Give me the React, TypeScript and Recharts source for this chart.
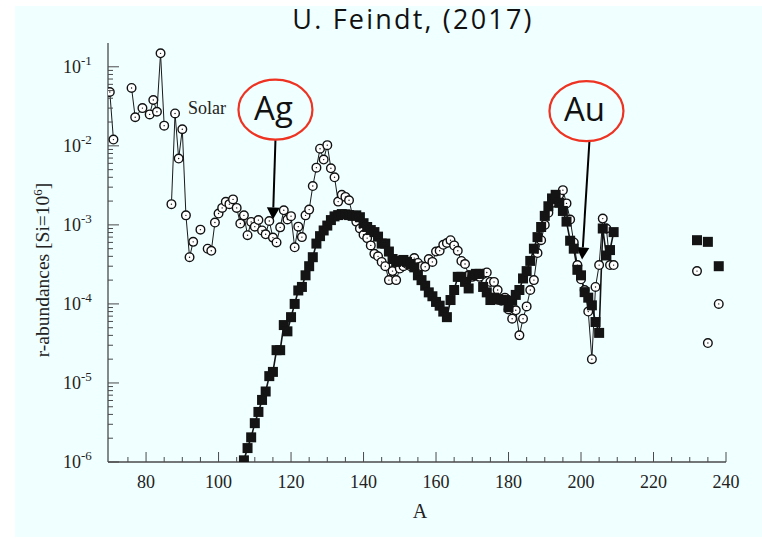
import React from 'react';
import { LineChart, Line, XAxis, YAxis, ReferenceDot, ReferenceLine } from 'recharts';

// ---- data ----
// Solar r-process abundances (open circles); null = break in the connecting line
const SOLAR_A = [
  70, 71, 73, 76, 77, 79, 81, 82, 83, 84, 85, 86, 87, 88, 89, 90, 91, 92, 93, 94, 95, 96, 97, 98, 99,
  100, 101, 102, 103, 104, 105, 106, 107, 108, 109, 110, 111, 112, 113, 114, 115, 116, 117, 118, 119,
  120, 121, 122, 123, 124, 125, 126, 127, 128, 129, 130, 131, 132, 133, 134, 135, 136, 137, 138, 139,
  140, 141, 142, 143, 144, 145, 146, 147, 148, 149, 150, 151, 152, 153, 154, 155, 156, 157, 158, 159,
  160, 161, 162, 163, 164, 165, 166, 167, 168, 169, 170, 171, 172, 173, 174, 175, 176, 177, 178, 179,
  180, 181, 182, 183, 184, 185, 186, 187, 188, 189, 190, 191, 192, 193, 194, 195, 196, 197, 198, 199,
  200, 201, 202, 203, 204, 205, 206, 207, 208, 209, 210, 232, 233, 235, 236, 238,
];
const SOLAR_V = [
  0.048, 0.012, null, 0.054, 0.023, 0.030, 0.025, 0.038, 0.027, 0.148, 0.018, null, 1.83e-3, 0.0257, 6.9e-3, 0.0162, 1.32e-3, 3.9e-4, 6.1e-4, null, 8.7e-4, null, 5.0e-4, 4.7e-4, 1.07e-3,
  1.39e-3, 1.64e-3, 1.96e-3, 1.83e-3, 2.1e-3, 1.64e-3, 1.04e-3, 1.32e-3, 7.4e-4, 1.09e-3, 9.5e-4, 1.15e-3, 8.5e-4, 7.6e-4, 1.12e-3, 6.9e-4, 6.0e-4, 9.3e-4, 1.53e-3, 1.17e-3,
  1.29e-3, 5.2e-4, 9.5e-4, 7.0e-4, 1.32e-3, 1.56e-3, 3.1e-3, 5.3e-3, 9.2e-3, 6.7e-3, 1.02e-2, 5.2e-3, 4.0e-3, 1.97e-3, 2.4e-3, 2.26e-3, 2.05e-3, 1.3e-3, 1.1e-3, 9.0e-4,
  7.5e-4, 6.8e-4, 5.5e-4, 4.3e-4, 4.0e-4, 3.4e-4, 3.0e-4, 2.0e-4, 2.6e-4, 2.0e-4, 2.8e-4, 3.0e-4, 3.2e-4, 3.0e-4, 3.8e-4, 3.3e-4, 3.0e-4, 2.95e-4, 3.7e-4, 3.4e-4,
  4.6e-4, 4.7e-4, 5.6e-4, 5.9e-4, 6.4e-4, 5.5e-4, 4.7e-4, 3.5e-4, 3.2e-4, 2.3e-4, 2.2e-4, 2.3e-4, 2.2e-4, 2.4e-4, 2.5e-4, 1.9e-4, 1.9e-4, 1.5e-4, 1.1e-4, 1.2e-4,
  8.5e-5, 6.5e-5, 8.3e-5, 4.0e-5, 6.5e-5, 9.3e-5, 1.5e-4, 2.0e-4, 4.4e-4, 6.4e-4, 1.0e-3, 1.42e-3, 1.9e-3, 2.1e-3, 2.4e-3, 2.75e-3, 1.87e-3, 1.17e-3, 6.0e-4, 3.1e-4,
  2.05e-4, 1.5e-4, 8.0e-5, 2.0e-5, 1.64e-4, 3.1e-4, 1.2e-3, 9.0e-4, 3.1e-4, 3.1e-4, null, 2.6e-4, null, 3.2e-5, null, 1.0e-4,
];

// Calculated r-process abundances (filled squares)
const RPROC_A = [
  107, 108, 109, 110, 111, 112, 113, 114, 115, 116, 117, 118, 119, 120, 121, 122, 123, 124, 125, 126,
  127, 128, 129, 130, 131, 132, 133, 134, 135, 136, 137, 138, 139, 140, 141, 142, 143, 144, 145, 146,
  147, 148, 149, 150, 151, 152, 153, 154, 155, 156, 157, 158, 159, 160, 161, 162, 163, 164, 165, 166,
  167, 168, 169, 170, 171, 172, 173, 174, 175, 176, 177, 178, 179, 180, 181, 182, 183, 184, 185, 186,
  187, 188, 189, 190, 191, 192, 193, 194, 195, 196, 197, 198, 199, 200, 201, 202, 203, 204, 205, 206,
  207, 208, 209, 210, 232, 233, 235, 236, 238,
];
const RPROC_V = [
  1.05e-6, 1.5e-6, 2.05e-6, 3.1e-6, 4.3e-6, 6.1e-6, 7.8e-6, 1.22e-5, 1.38e-5, 2.6e-5, 2.6e-5, 5.4e-5, 4.5e-5, 6.8e-5, 1.0e-4, 1.48e-4, 1.64e-4, 2.3e-4, 3.0e-4, 3.9e-4,
  5.8e-4, 7.2e-4, 8.5e-4, 9.8e-4, 1.15e-3, 1.28e-3, 1.33e-3, 1.37e-3, 1.36e-3, 1.33e-3, 1.3e-3, 1.32e-3, 1.25e-3, 1.05e-3, 9.4e-4, 8.6e-4, 8.1e-4, 7.1e-4, 5.8e-4, 5.8e-4,
  4.6e-4, 3.7e-4, 3.4e-4, 3.5e-4, 3.6e-4, 3.4e-4, 3.2e-4, 2.9e-4, 2.3e-4, 2.0e-4, 1.7e-4, 1.4e-4, 1.25e-4, 1.06e-4, 9.5e-5, 8.0e-5, 6.8e-5, 1.12e-4, 1.5e-4, 2.2e-4,
  2.2e-4, 1.9e-4, 1.57e-4, 2.3e-4, 2.4e-4, 2.4e-4, 1.64e-4, 1.4e-4, 1.12e-4, 1.2e-4, 1.15e-4, 1.13e-4, 1.12e-4, 9.1e-5, 1.1e-4, 1.3e-4, 1.5e-4, 2.1e-4, 2.6e-4, 3.5e-4,
  5.0e-4, 7.0e-4, 9.4e-4, 1.3e-3, 1.72e-3, 2.16e-3, 2.4e-3, 1.9e-3, 1.5e-3, 1.1e-3, 6.3e-4, 5.0e-4, 2.7e-4, 2.3e-4, 1.41e-4, 1.2e-4, 9.6e-5, 5.9e-5, 4.3e-5, 9.0e-4,
  4.1e-4, 4.8e-4, 8.1e-4, null, 6.4e-4, null, 6.1e-4, null, 3.0e-4,
];

const X_MINOR_TICKS = [75, 80, 85, 90, 95, 100, 105, 110, 115, 120, 125, 130, 135, 140, 145, 150, 155, 160, 165, 170, 175, 180, 185, 190, 195, 200, 205, 210, 215, 220, 225, 230, 235, 240];
const X_LABELS = [80, 100, 120, 140, 160, 180, 200, 220, 240];
const Y_DECADES = [-6, -5, -4, -3, -2, -1];
const Y_MULTIPLIERS = [1, 2, 3, 4, 5, 6, 7, 8, 9];

const X_DOMAIN = [69.5, 240];
const Y_DOMAIN = [1e-6, 0.2];

// annotations (data coordinates)
const AG = { label: 'Ag', x: 115.7, y: 0.0287, tipX: 115.0, tipY: 1.17e-3, fromX: 115.7, fromY: 0.0118 };
const AU = { label: 'Au', x: 201.5, y: 0.0275, tipX: 200.3, tipY: 3.65e-4, fromX: 202.3, fromY: 0.0112 };

// ---- derived tables ----
const solarData = SOLAR_A.map((a, i) => ({ A: a, v: SOLAR_V[i] }));
const rprocData = RPROC_A.map((a, i) => ({ A: a, v: RPROC_V[i] }));
const Y_TICKS: number[] = [];
Y_DECADES.forEach((d) => {
  Y_MULTIPLIERS.forEach((k) => {
    const v = k * Math.pow(10, d);
    if (v < Y_DOMAIN[1] * 0.99) Y_TICKS.push(v);
  });
});

const FRAME = '#4a4a4a';
const SERIF = '"Liberation Serif", "Times New Roman", serif';
const SANS = '"Open Sans", "Noto Sans", sans-serif';
const BG = '#F0FFFF';

const isMajorY = (v: number) => {
  const l = Math.log10(v);
  return Math.abs(l - Math.round(l)) < 1e-6;
};

const BottomTick = (props: any) => {
  const { x, y, payload } = props;
  const v = payload.value;
  const major = X_LABELS.includes(v);
  return (
    <g>
      <line x1={x} y1={y} x2={x} y2={y - (major ? 10 : 5)} stroke={FRAME} strokeWidth={1} />
      {major && (
        <text x={x} y={y + 26} textAnchor="middle" fontFamily={SERIF} fontSize={18} fill="#222">
          {v}
        </text>
      )}
    </g>
  );
};

const TopTick = (props: any) => {
  const { x, y, payload } = props;
  const major = X_LABELS.includes(payload.value);
  return <line x1={x} y1={y} x2={x} y2={y + (major ? 10 : 5)} stroke={FRAME} strokeWidth={1} />;
};

const LeftTick = (props: any) => {
  const { x, y, payload } = props;
  const v = payload.value;
  const major = isMajorY(v);
  const e = Math.round(Math.log10(v));
  return (
    <g>
      <line x1={x} y1={y} x2={x + (major ? 11 : 5)} y2={y} stroke={FRAME} strokeWidth={1} />
      {major && (
        <text x={x - 45} y={y + 6} fontFamily={SERIF} fontSize={18} fill="#222">
          10
          <tspan dy={-8} fontSize={13}>
            {String(e)}
          </tspan>
        </text>
      )}
    </g>
  );
};

const RightTick = (props: any) => {
  const { x, y, payload } = props;
  const major = isMajorY(payload.value);
  return <line x1={x} y1={y} x2={x - (major ? 11 : 5)} y2={y} stroke={FRAME} strokeWidth={1} />;
};

const CircleDot = (props: any) => {
  const { cx, cy, index, value } = props;
  if (cx == null || cy == null || value == null || (Array.isArray(value) && value[1] == null)) return <g key={`c${index}`} />;
  return (
    <g key={`c${index}`}>
      <circle cx={cx} cy={cy} r={4.3} fill="#fff" stroke="#111" strokeWidth={1.4} />
      <circle cx={cx} cy={cy} r={0.7} fill="#111" />
    </g>
  );
};

const SquareDot = (props: any) => {
  const { cx, cy, index, value } = props;
  if (cx == null || cy == null || value == null || (Array.isArray(value) && value[1] == null)) return <g key={`s${index}`} />;
  const s = 10;
  return <rect key={`s${index}`} x={cx - s / 2} y={cy - s / 2} width={s} height={s} fill="#141414" />;
};

const ellipseShape = (label: string) => (p: any) => (
  <g>
    <ellipse cx={p.cx} cy={p.cy} rx={37} ry={30} fill="none" stroke="#EE3322" strokeWidth={2.2} />
    <text x={p.cx - 2} y={p.cy + 10} textAnchor="middle" fontFamily={SANS} fontSize={33} fill="#111">
      {label}
    </text>
  </g>
);

const arrowShape = (p: any) => {
  const { x1, y1, x2, y2 } = p;
  if ([x1, y1, x2, y2].some((v) => v == null || isNaN(v))) return <g />;
  const dx = x2 - x1;
  const dy = y2 - y1;
  const len = Math.sqrt(dx * dx + dy * dy);
  const ux = dx / len;
  const uy = dy / len;
  const hl = 12;
  const hw = 6.5;
  const bx = x2 - ux * hl;
  const by = y2 - uy * hl;
  return (
    <g>
      <line x1={x1} y1={y1} x2={bx} y2={by} stroke="#000" strokeWidth={2} />
      <polygon
        points={`${x2},${y2} ${bx - uy * hw},${by + ux * hw} ${bx + uy * hw},${by - ux * hw}`}
        fill="#000"
      />
    </g>
  );
};

export default function App() {
  return (
    <div style={{ position: 'absolute', left: 0, top: 0, width: 762, height: 538, background: '#fff', overflow: 'hidden' }}>
      <div style={{ position: 'absolute', left: 15, top: 6, width: 747, height: 531, background: BG }} />
      <div style={{ position: 'absolute', left: 0, top: 0 }}>
        <LineChart width={762} height={538} margin={{ top: 43, right: 36, bottom: 0, left: 0 }}>
          <XAxis
            xAxisId="b"
            type="number"
            dataKey="A"
            domain={X_DOMAIN}
            allowDataOverflow
            ticks={X_MINOR_TICKS}
            interval={0}
            tick={BottomTick}
            tickLine={false}
            tickSize={0}
            tickMargin={0}
            height={76}
            axisLine={{ stroke: FRAME, strokeWidth: 1.3 }}
          />
          <XAxis
            xAxisId="t"
            orientation="top"
            type="number"
            dataKey="A"
            domain={X_DOMAIN}
            allowDataOverflow
            ticks={X_MINOR_TICKS}
            interval={0}
            tick={TopTick}
            tickLine={false}
            tickSize={0}
            tickMargin={0}
            height={0}
            axisLine={{ stroke: FRAME, strokeWidth: 1.3 }}
          />
          <YAxis
            yAxisId="l"
            type="number"
            scale="log"
            domain={Y_DOMAIN}
            allowDataOverflow
            ticks={Y_TICKS}
            interval={0}
            tick={LeftTick}
            tickLine={false}
            tickSize={0}
            tickMargin={0}
            width={108}
            axisLine={{ stroke: FRAME, strokeWidth: 1.3 }}
          />
          <YAxis
            yAxisId="r"
            orientation="right"
            type="number"
            scale="log"
            domain={Y_DOMAIN}
            allowDataOverflow
            ticks={Y_TICKS}
            interval={0}
            tick={RightTick}
            tickLine={false}
            tickSize={0}
            tickMargin={0}
            width={0}
            axisLine={{ stroke: FRAME, strokeWidth: 1.3 }}
          />
          <Line
            xAxisId="b"
            yAxisId="l"
            data={solarData}
            dataKey="v"
            type="linear"
            stroke="#1a1a1a"
            strokeWidth={1}
            dot={CircleDot}
            activeDot={false}
            isAnimationActive={false}
          />
          <Line
            xAxisId="b"
            yAxisId="l"
            data={rprocData}
            dataKey="v"
            type="linear"
            stroke="#141414"
            strokeWidth={1.6}
            dot={SquareDot}
            activeDot={false}
            isAnimationActive={false}
          />
          <ReferenceLine
            xAxisId="b"
            yAxisId="l"
            segment={[{ x: AG.fromX, y: AG.fromY }, { x: AG.tipX, y: AG.tipY }]}
            ifOverflow="visible"
            shape={arrowShape}
          />
          <ReferenceLine
            xAxisId="b"
            yAxisId="l"
            segment={[{ x: AU.fromX, y: AU.fromY }, { x: AU.tipX, y: AU.tipY }]}
            ifOverflow="visible"
            shape={arrowShape}
          />
          <ReferenceDot xAxisId="b" yAxisId="l" x={AG.x} y={AG.y} ifOverflow="visible" shape={ellipseShape(AG.label)} />
          <ReferenceDot xAxisId="b" yAxisId="l" x={AU.x} y={AU.y} ifOverflow="visible" shape={ellipseShape(AU.label)} />
        </LineChart>
      </div>
      <svg width={762} height={538} style={{ position: 'absolute', left: 0, top: 0, pointerEvents: 'none' }}>
        <text x={413} y={29} textAnchor="middle" fontFamily={SANS} fontSize={27} letterSpacing={2.2} fill="#111">
          U. Feindt, (2017)
        </text>
        <text x={188} y={114} fontFamily={SERIF} fontSize={18} fill="#222">
          Solar
        </text>
        <text x={420} y={518} textAnchor="middle" fontFamily={SERIF} fontSize={20} fill="#222">
          A
        </text>
        <text
          transform="translate(49, 270) rotate(-90)"
          textAnchor="middle"
          fontFamily={SERIF}
          fontSize={19.5}
          fill="#222"
        >
          r-abundances [Si=10
          <tspan dy={-7} fontSize={13}>
            6
          </tspan>
          <tspan dy={7}>]</tspan>
        </text>
      </svg>
    </div>
  );
}
